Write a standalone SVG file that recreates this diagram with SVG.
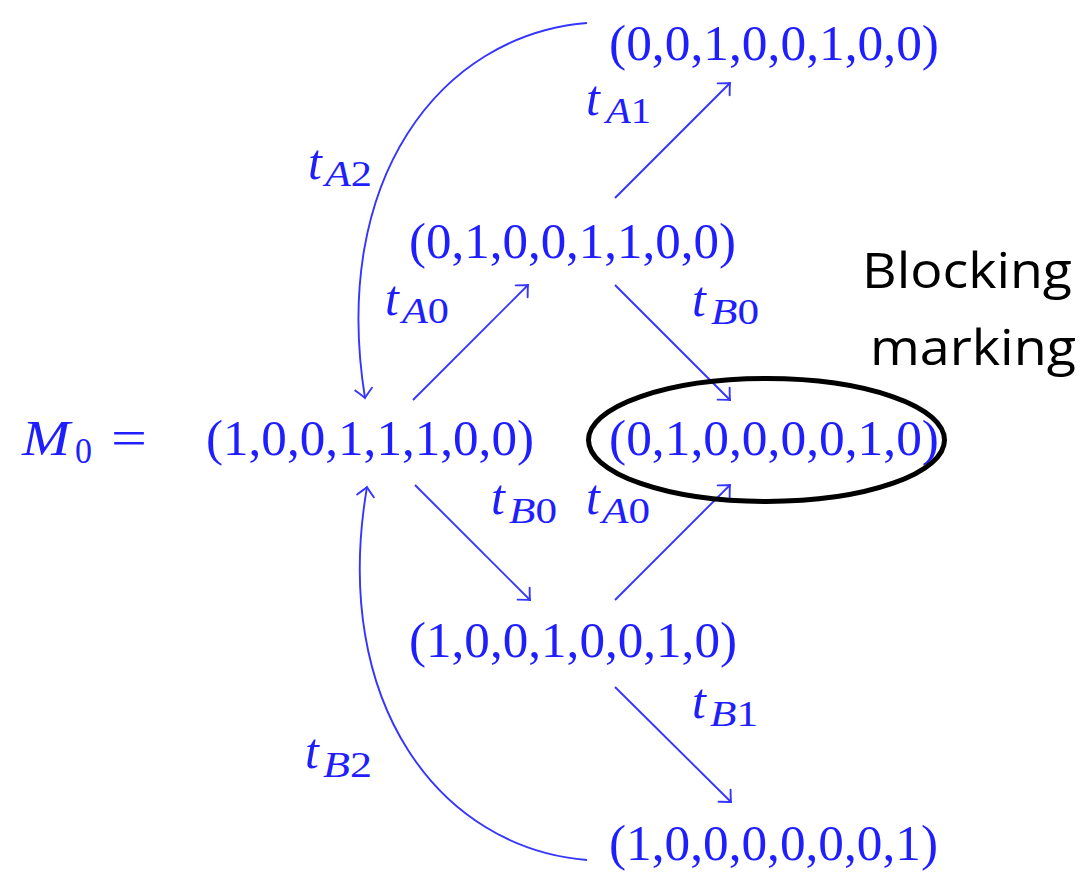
<svg xmlns="http://www.w3.org/2000/svg" width="1089" height="879" viewBox="0 0 1089 879">
  <style>
    .tup { font-family: "Liberation Serif", "Times New Roman", serif; font-size: 50px; fill: #1e1eff; }
    .t { font-family: "Liberation Serif", "Times New Roman", serif; font-size: 50px; font-style: italic; fill: #1e1eff; }
    .sub { font-family: "Liberation Serif", "Times New Roman", serif; font-size: 36px; fill: #1e1eff; }
    .it { font-style: italic; }
    .edge { fill: none; stroke: #3535ff; stroke-width: 1.9; marker-end: url(#arr); }
    .note { font-family: "Open Sans", "Liberation Sans", sans-serif; font-size: 49px; fill: #000; }
  </style>
  <defs>
    <marker id="arr" viewBox="-12 -11 14 22" markerWidth="14" markerHeight="22" refX="0" refY="0" orient="auto" markerUnits="userSpaceOnUse">
      <path d="M-9,-8.5 Q-3,-2.5 0,0 Q-3,2.5 -9,8.5" fill="none" stroke="#3535ff" stroke-width="1.9" stroke-linecap="round"/>
    </marker>
  </defs>
  <rect width="1089" height="879" fill="#ffffff"/>

  <g id="connectors">
    <path class="edge" d="M413,400 L528,285"/>
    <path class="edge" d="M615,198 L730,83"/>
    <path class="edge" d="M615,285 L730,400"/>
    <path class="edge" d="M415,485 L530,600"/>
    <path class="edge" d="M615,600 L730,485"/>
    <path class="edge" d="M615,687 L731,802"/>
    <path class="edge" d="M587,23 C440,35 330,180 365,398"/>
    <path class="edge" d="M587,860 C440,848 330,703 367,487"/>
  </g>

  <g id="labels">
    <g id="lbl-tA1">
      <text class="t" x="586" y="115">t</text>
      <text class="sub" x="606" y="123" textLength="45" lengthAdjust="spacingAndGlyphs"><tspan class="it">A</tspan>1</text>
    </g>
    <g id="lbl-tA2">
      <text class="t" x="308" y="179">t</text>
      <text class="sub" x="325" y="186" textLength="47" lengthAdjust="spacingAndGlyphs"><tspan class="it">A</tspan>2</text>
    </g>
    <g id="lbl-tA0-up">
      <text class="t" x="385" y="315">t</text>
      <text class="sub" x="402" y="323" textLength="47" lengthAdjust="spacingAndGlyphs"><tspan class="it">A</tspan>0</text>
    </g>
    <g id="lbl-tB0-up">
      <text class="t" x="692" y="316">t</text>
      <text class="sub" x="711" y="324" textLength="48" lengthAdjust="spacingAndGlyphs"><tspan class="it">B</tspan>0</text>
    </g>
    <g id="lbl-tB0-low">
      <text class="t" x="491" y="514">t</text>
      <text class="sub" x="509" y="523" textLength="48" lengthAdjust="spacingAndGlyphs"><tspan class="it">B</tspan>0</text>
    </g>
    <g id="lbl-tA0-low">
      <text class="t" x="586" y="514">t</text>
      <text class="sub" x="602" y="523" textLength="48" lengthAdjust="spacingAndGlyphs"><tspan class="it">A</tspan>0</text>
    </g>
    <g id="lbl-tB1">
      <text class="t" x="692" y="718">t</text>
      <text class="sub" x="710" y="726" textLength="48" lengthAdjust="spacingAndGlyphs"><tspan class="it">B</tspan>1</text>
    </g>
    <g id="lbl-tB2">
      <text class="t" x="305" y="768">t</text>
      <text class="sub" x="323" y="777" textLength="49" lengthAdjust="spacingAndGlyphs"><tspan class="it">B</tspan>2</text>
    </g>
  </g>

  <g id="m0-label">
    <text class="t" x="22" y="455" textLength="48" lengthAdjust="spacingAndGlyphs">M</text>
    <text class="sub" x="75" y="463" textLength="17" lengthAdjust="spacingAndGlyphs">0</text>
    <text class="tup" x="111" y="455" textLength="36" lengthAdjust="spacingAndGlyphs">=</text>
  </g>

  <g id="node-m0">
    <text class="tup" x="206" y="455" textLength="328" lengthAdjust="spacingAndGlyphs">(1,0,0,1,1,1,0,0)</text>
  </g>
  <g id="node-upper">
    <text class="tup" x="409" y="258" textLength="327" lengthAdjust="spacingAndGlyphs">(0,1,0,0,1,1,0,0)</text>
  </g>
  <g id="node-top">
    <text class="tup" x="609" y="60" textLength="330" lengthAdjust="spacingAndGlyphs">(0,0,1,0,0,1,0,0)</text>
  </g>
  <g id="node-blocking">
    <text class="tup" x="609" y="455" textLength="330" lengthAdjust="spacingAndGlyphs">(0,1,0,0,0,0,1,0)</text>
    <ellipse cx="766.5" cy="440" rx="178" ry="61.5" fill="none" stroke="#000" stroke-width="5"/>
  </g>
  <g id="node-lower">
    <text class="tup" x="409" y="657" textLength="328" lengthAdjust="spacingAndGlyphs">(1,0,0,1,0,0,1,0)</text>
  </g>
  <g id="node-bottom">
    <text class="tup" x="609" y="860" textLength="329" lengthAdjust="spacingAndGlyphs">(1,0,0,0,0,0,0,1)</text>
  </g>

  <g id="note-blocking">
    <text class="note" x="862" y="288" textLength="210" lengthAdjust="spacingAndGlyphs">Blocking</text>
    <text class="note" x="870" y="365" textLength="206" lengthAdjust="spacingAndGlyphs">marking</text>
  </g>
</svg>
